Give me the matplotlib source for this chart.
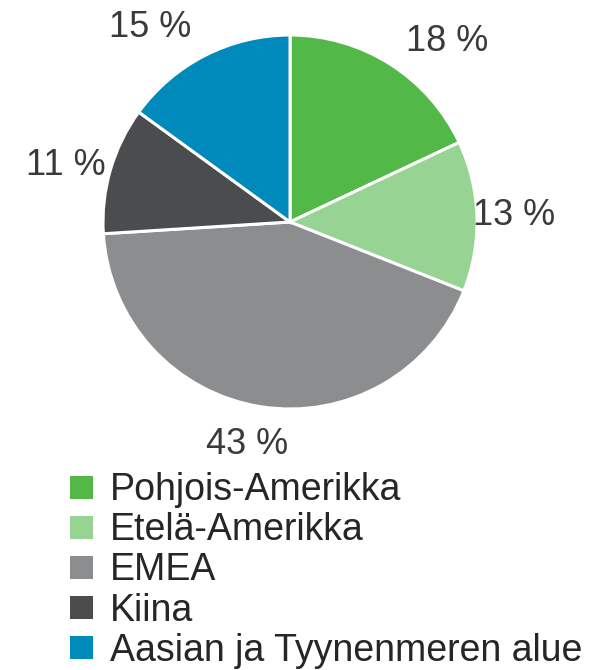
import numpy as np
import matplotlib.pyplot as plt
from matplotlib.patches import Rectangle

regions = ["Pohjois-Amerikka", "Etelä-Amerikka", "EMEA", "Kiina", "Aasian ja Tyynenmeren alue"]
shares = [18, 13, 43, 11, 15]
colors = ["#52b848", "#97d393", "#8c8d8f", "#4b4c4e", "#0089bb"]

# label placement tweaks (distance from centre in radii, angle nudge in degrees)
label_dist = [1.30, 1.20, 1.19, 1.24, 1.30]
label_nudge = [-8, 1, -2, 1, 8]

plt.rcParams["font.family"] = ["Liberation Sans", "DejaVu Sans"]
W, H = 593, 670
fig = plt.figure(figsize=(W / 100, H / 100), dpi=100)

cx, cy, R = 290, 222, 187
ax = fig.add_axes([(cx - R) / W, 1 - (cy + R) / H, 2 * R / W, 2 * R / H])
wedges, _ = ax.pie(shares, colors=colors, startangle=90, counterclock=False,
                   radius=1, wedgeprops=dict(edgecolor="white", linewidth=2.2))
ax.set_xlim(-1, 1)
ax.set_ylim(-1, 1)
ax.set_aspect("equal")

for w, s, d, n in zip(wedges, shares, label_dist, label_nudge):
    a = np.deg2rad((w.theta1 + w.theta2) / 2 + n)
    ax.annotate(f"{s} %", (d * np.cos(a), d * np.sin(a)), xytext=(0, -3),
                textcoords="offset points", ha="center", va="center",
                fontsize=26, color="#3a3a3a", annotation_clip=False)

# legend
y0, dy = 487, 40.2
sq = 23
for i, (name, c) in enumerate(zip(regions, colors)):
    y = y0 + i * dy
    fig.patches.append(Rectangle((70 / W, 1 - (y + sq / 2) / H), sq / W, sq / H,
                                 transform=fig.transFigure, facecolor=c, edgecolor="none"))
    fig.text(110 / W, 1 - (y - 1) / H, name, ha="left", va="center_baseline",
             fontsize=27, color="#262626")

fig.savefig("out.png", dpi=100)
